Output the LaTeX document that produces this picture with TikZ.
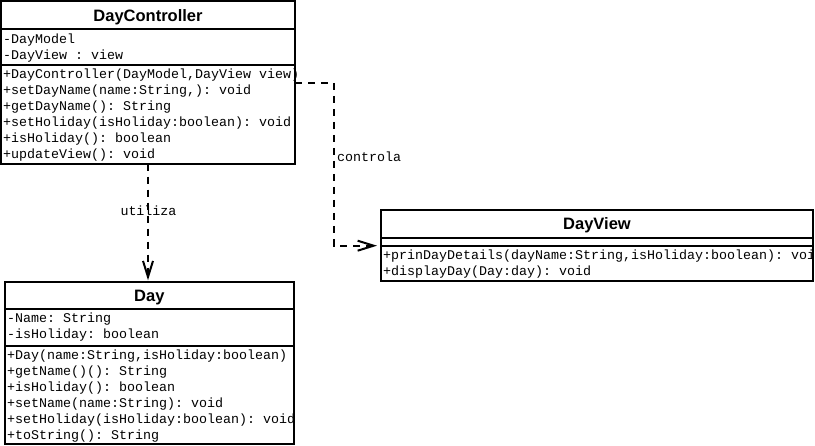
\documentclass[tikz,border=0pt]{standalone}
\usepackage{fontspec}
\setmonofont{Liberation Mono}
\newfontfamily\titlefont{Liberation Sans}
\usetikzlibrary{arrows.meta,calc}
\tikzset{
  umlbox/.style={draw=black, line width=2pt, rectangle, inner sep=0pt, outer sep=0pt, anchor=north west},
  sepline/.style={line width=2pt},
  ttl/.style={font=\titlefont\bfseries\fontsize{16.5}{18}\selectfont, anchor=base, inner sep=0pt},
  mem/.style={font=\ttfamily\fontsize{13.33}{16}\selectfont, anchor=base west, inner sep=0pt},
  lbl/.style={font=\ttfamily\fontsize{13.33}{16}\selectfont, inner sep=0pt},
  dep/.style={line width=2pt, dash pattern=on 7pt off 6pt, -{Straight Barb[length=16pt,width=10pt]}}
}
\begin{document}
\begin{tikzpicture}[x=1pt,y=-1pt]
\useasboundingbox (0,0) rectangle (815,446);
% boxes
\node[umlbox, minimum width=294pt, minimum height=162.7pt] (dc) at (1,1) {};
\node[umlbox, minimum width=288.7pt, minimum height=162pt] (day) at (5,282.3) {};
\node[umlbox, minimum width=432pt, minimum height=70.7pt] (dv) at (381,210.3) {};
% separators
\draw[sepline] ($(dc.north west)+(0,28.3)$) -- ($(dc.north east)+(0,28.3)$);
\draw[sepline] ($(dc.north west)+(0,64)$) -- ($(dc.north east)+(0,64)$);
\draw[sepline] ($(day.north west)+(0,26.7)$) -- ($(day.north east)+(0,26.7)$);
\draw[sepline] ($(day.north west)+(0,63.7)$) -- ($(day.north east)+(0,63.7)$);
\draw[sepline] ($(dv.north west)+(0,27.4)$) -- ($(dv.north east)+(0,27.4)$);
\draw[sepline] ($(dv.north west)+(0,35.4)$) -- ($(dv.north east)+(0,35.4)$);
% titles
\node[ttl] (dct) at (148,21.1) {DayController};
\node[ttl] (dayt) at (149.3,301.7) {Day};
\node[ttl] (dvt) at (597,230) {DayView};
% DayController members
\begin{scope}
\clip (dc.north west) rectangle ($(dc.south east)+(1.5,0)$);
\node[mem] (dca1) at (3,43.3) {-DayModel};
\node[mem] (dca2) at (3,59.3) {-DayView : view};
\node[mem] (dcm1) at (3,79) {+DayController(DayModel,DayView view)};
\node[mem] (dcm2) at (3,95) {+setDayName(name:String,): void};
\node[mem] (dcm3) at (3,111) {+getDayName(): String};
\node[mem] (dcm4) at (3,127) {+setHoliday(isHoliday:boolean): void};
\node[mem] (dcm5) at (3,143) {+isHoliday(): boolean};
\node[mem] (dcm6) at (3,159) {+updateView(): void};
\end{scope}
% Day members
\node[mem] (daya1) at (7,323) {-Name: String};
\node[mem] (daya2) at (7,339) {-isHoliday: boolean};
\node[mem] (daym1) at (7,360) {+Day(name:String,isHoliday:boolean)};
\node[mem] (daym2) at (7,376) {+getName()(): String};
\node[mem] (daym3) at (7,392) {+isHoliday(): boolean};
\node[mem] (daym4) at (7,408) {+setName(name:String): void};
\node[mem] (daym5) at (7,424) {+setHoliday(isHoliday:boolean): void};
\node[mem] (daym6) at (7,440) {+toString(): String};
% DayView members
\begin{scope}
\clip ($(dv.north west)+(0,0)$) rectangle ($(dv.south east)+(-1,0)$);
\node[mem] (dvm1) at (383,259.7) {+prinDayDetails(dayName:String,isHoliday:boolean): void};
\node[mem] (dvm2) at (383,275.7) {+displayDay(Day:day): void};
\end{scope}
% connectors
\draw[dep, shorten >=4pt] ($(dc.north east)+(0,82)$) -- ++(39,0) |- ($(dv.north west)+(0,35.4)$);
\draw[dep, shorten >=2pt] (dc.south) -- (dc.south |- day.north);
% labels
\node[lbl, anchor=base west] (lctrl) at (337,161.5) {controla};
\node[lbl, anchor=base] (luse) at (148.5,216) {utiliza};
\end{tikzpicture}
\end{document}
